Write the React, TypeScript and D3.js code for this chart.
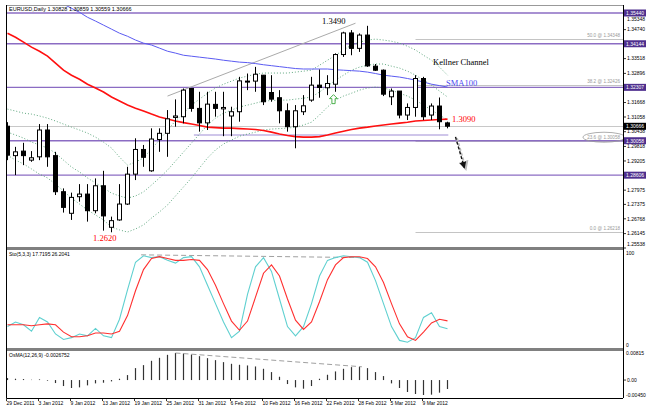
import React from "react";
import * as d3 from "d3";

// ---------- DATA ----------
const opens = [1.3067,1.2943,1.2962,1.2924,1.2938,1.3051,1.2943,1.2791,1.2700,1.2770,1.2781,1.2711,1.2816,1.2641,1.2672,1.2739,1.2865,1.2969,1.2879,1.3011,1.3037,1.3104,1.3107,1.3226,1.3142,1.3081,1.3159,1.3140,1.3110,1.3128,1.3253,1.3257,1.3282,1.3209,1.3187,1.3132,1.3065,1.3128,1.3177,1.3240,1.3229,1.3244,1.3369,1.3460,1.3395,1.3451,1.3320,1.3303,1.3191,1.3215,1.3114,1.3146,1.3268,1.3114,1.3152,1.3081];
const highs = [1.3084,1.2980,1.2997,1.2962,1.3076,1.3076,1.2959,1.2805,1.2787,1.2823,1.2823,1.2847,1.2879,1.2686,1.2823,1.2896,1.3016,1.2988,1.3058,1.3058,1.3135,1.3180,1.3226,1.3228,1.3212,1.3212,1.3212,1.3212,1.3149,1.3275,1.3289,1.3317,1.3282,1.3282,1.3219,1.3163,1.3156,1.3198,1.3275,1.3306,1.3282,1.3374,1.3465,1.3472,1.3458,1.3490,1.3329,1.3306,1.3226,1.3215,1.3163,1.3282,1.3275,1.3163,1.3188,1.3086];
const lows = [1.2924,1.2861,1.2903,1.2917,1.2924,1.2896,1.2777,1.2703,1.2672,1.2749,1.2665,1.2700,1.2627,1.2620,1.2669,1.2735,1.2840,1.2896,1.2875,1.2959,1.2938,1.3065,1.3079,1.3128,1.3044,1.3051,1.3107,1.3025,1.3025,1.3086,1.3219,1.3212,1.3156,1.3170,1.3079,1.3044,1.2974,1.3114,1.3170,1.3187,1.3198,1.3212,1.3359,1.3366,1.3380,1.3317,1.3300,1.3194,1.3156,1.3100,1.3093,1.3107,1.3093,1.3093,1.3054,1.3058];
const closes = [1.2945,1.2959,1.2943,1.2934,1.3051,1.2938,1.2791,1.2725,1.2767,1.2781,1.2711,1.2816,1.2689,1.2669,1.2739,1.2865,1.2969,1.2936,1.3013,1.3037,1.3098,1.3110,1.3219,1.3142,1.3081,1.3160,1.3142,1.3146,1.3128,1.3258,1.3257,1.3286,1.3170,1.3181,1.3132,1.3065,1.3132,1.3153,1.3240,1.3230,1.3247,1.3369,1.3460,1.3395,1.3451,1.3321,1.3303,1.3202,1.3215,1.3114,1.3146,1.3268,1.3107,1.3152,1.3086,1.3067];

const sma100 = [1.3707,1.3686,1.3670,1.3649,1.3632,1.3615,1.3598,1.3581,1.3564,1.3547,1.3526,1.3510,1.3493,1.3476,1.3459,1.3446,1.3430,1.3417,1.3409,1.3396,1.3383,1.3375,1.3366,1.3362,1.3358,1.3354,1.3350,1.3345,1.3341,1.3337,1.3335,1.3331,1.3326,1.3322,1.3318,1.3314,1.3310,1.3308,1.3308,1.3308,1.3308,1.3305,1.3303,1.3301,1.3299,1.3295,1.3289,1.3282,1.3278,1.3274,1.3268,1.3261,1.3253,1.3244,1.3238,1.3232];
const smaRed = [1.3459,1.3442,1.3421,1.3400,1.3383,1.3362,1.3333,1.3303,1.3282,1.3265,1.3244,1.3228,1.3211,1.3190,1.3173,1.3156,1.3143,1.3131,1.3118,1.3106,1.3097,1.3089,1.3082,1.3076,1.3070,1.3063,1.3061,1.3059,1.3059,1.3057,1.3055,1.3053,1.3049,1.3042,1.3034,1.3028,1.3023,1.3021,1.3021,1.3023,1.3030,1.3038,1.3046,1.3053,1.3059,1.3063,1.3068,1.3072,1.3076,1.3080,1.3084,1.3089,1.3091,1.3093,1.3095,1.3097];
const keltnerUpper = [1.3139,1.3131,1.3122,1.3118,1.3110,1.3101,1.3089,1.3076,1.3063,1.3051,1.3038,1.3021,1.3000,1.2975,1.2937,1.2903,1.2916,1.2933,1.2971,1.3009,1.3051,1.3089,1.3122,1.3156,1.3181,1.3206,1.3228,1.3244,1.3257,1.3270,1.3278,1.3286,1.3291,1.3291,1.3291,1.3291,1.3295,1.3299,1.3303,1.3324,1.3345,1.3366,1.3388,1.3409,1.3421,1.3430,1.3434,1.3430,1.3425,1.3417,1.3404,1.3388,1.3366,1.3345,1.3316,1.3282];
const keltnerMid = [1.3042,1.3030,1.3017,1.3000,1.2988,1.2975,1.2954,1.2924,1.2895,1.2874,1.2849,1.2828,1.2807,1.2785,1.2773,1.2764,1.2773,1.2790,1.2819,1.2849,1.2882,1.2920,1.2958,1.2996,1.3034,1.3072,1.3101,1.3122,1.3135,1.3148,1.3156,1.3164,1.3173,1.3175,1.3177,1.3177,1.3181,1.3185,1.3190,1.3211,1.3236,1.3261,1.3282,1.3303,1.3316,1.3324,1.3329,1.3329,1.3320,1.3312,1.3299,1.3282,1.3261,1.3240,1.3215,1.3190];
const keltnerLower = [1.2945,1.2924,1.2908,1.2887,1.2865,1.2849,1.2823,1.2794,1.2764,1.2739,1.2714,1.2693,1.2672,1.2642,1.2630,1.2621,1.2634,1.2651,1.2680,1.2706,1.2735,1.2773,1.2811,1.2849,1.2891,1.2933,1.2967,1.2992,1.3009,1.3025,1.3034,1.3042,1.3051,1.3055,1.3057,1.3059,1.3063,1.3072,1.3084,1.3114,1.3148,1.3177,1.3194,1.3206,1.3219,1.3228,1.3232,1.3228,1.3219,1.3206,1.3194,1.3177,1.3156,1.3135,1.3114,1.3093];

const stochK = [20,25,22,15,30,25,12,6,8,12,10,18,10,8,28,60,90,97,95,96,92,89,95,96,85,65,45,25,8,15,55,85,95,80,50,20,10,20,45,75,92,95,97,96,95,90,70,45,20,5,3,8,30,35,20,17.7];
const stochD = [22,22,22,21,22,23,22,14,9,9,10,13,13,12,15,32,59,82,94,96,94,92,92,93,92,82,65,45,26,16,26,52,78,87,75,50,27,17,25,47,71,87,95,96,96,94,85,68,45,23,9,5,14,24,28,26.2];
const osma = [0.0006,0.0004,0.0003,0.0001,0.0002,-0.0002,-0.0009,-0.0018,-0.0024,-0.0022,-0.0016,-0.0010,-0.0008,-0.0004,0.0004,0.0015,0.0036,0.0045,0.0058,0.0067,0.0076,0.00815,0.0080,0.0077,0.0072,0.0066,0.0060,0.0054,0.0049,0.0046,0.0044,0.0041,0.0034,0.0024,0.0010,-0.0012,-0.0022,-0.0026,-0.0018,0.0004,0.0016,0.0026,0.0034,0.0039,0.0040,0.0036,0.0024,0.0012,-0.0010,-0.0024,-0.0036,-0.0042,-0.0045,-0.0044,-0.0038,-0.0027];

const dateLabels = ["29 Dec 2011","3 Jan 2012","9 Jan 2012","13 Jan 2012","19 Jan 2012","25 Jan 2012","31 Jan 2012","6 Feb 2012","10 Feb 2012","16 Feb 2012","22 Feb 2012","28 Feb 2012","5 Mar 2012","9 Mar 2012"];
const dateBars = [0,4,8,12,16,20,24,28,32,36,40,44,48,52];

const priceTicks = ["1.35348","1.34740","1.33518","1.32896","1.31668","1.31058","1.30438","1.29818","1.29205","1.27975","1.27375","1.26768","1.26145","1.25538"];
const levelPrices = ["1.35440","1.34144","1.32307","1.30058","1.28606"];
const closePrice = "1.30666";
const fibLevels = ["0.0","23.6","38.2","50.0"];
const fibPrices = ["1.26218","1.30058","1.32426","1.34348"];

const stochTicks = ["100","0"];
const osmaTicks = ["0.00815","0.00","-0.00450"];

// ---------- LAYOUT ----------
const LEFT = 7, RIGHT = 623;
const MAIN_TOP = 5, MAIN_BOT = 247;
const STO_TOP = 250, STO_BOT = 348;
const OS_BOT = 398;

const x = d3.scaleLinear().domain([0, 55]).range([7.5, 447.5]);
const y = d3.scaleLinear().domain([1.25538, 1.3544]).range([248, 13]);
const ys = d3.scaleLinear().domain([0, 100]).range([345, 253]);
const yo = d3.scaleLinear().domain([-0.0045, 0.00815]).range([395, 353]);

const PURPLE = "#8b6cc3";
const BOX = "#4e2f8e";

export default function App() {
  const priceLine = d3.line<number>().x((_, i) => x(i)).y((d) => y(d));
  const stoLine = d3.line<number>().x((_, i) => x(i)).y((d) => ys(d));
  const axisFont = "Liberation Sans, Arial, sans-serif";
  const serif = "Liberation Serif, Times New Roman, serif";

  const arrowCx = x(40.75);
  const arrowTop = y(1.3200);
  const arrowPts = [
    [0, 0], [4, 4], [1.6, 4], [1.6, 9], [-1.6, 9], [-1.6, 4], [-4, 4],
  ].map(([a, b]) => `${arrowCx + a},${arrowTop + b}`).join(" ");

  const dashStart = [x(56), y(1.3022)];
  const dashEnd = [x(57.1), y(1.2893)];

  // keep axis labels from colliding with highlighted boxes / panel labels
  const tickY = (t: string) => {
    const v = y(+t);
    if (v < 20) return Math.max(v, 19.5);
    if (v > 244) return Math.min(v, 244);
    return v;
  };

  return (
    <svg width={668} height={415} style={{ position: "absolute", left: 0, top: 0, background: "#fff" }}>
      <defs>
        <clipPath id="mainClip"><rect x={LEFT} y={MAIN_TOP} width={RIGHT - LEFT} height={MAIN_BOT - MAIN_TOP} /></clipPath>
        <clipPath id="stoClip"><rect x={LEFT} y={STO_TOP} width={RIGHT - LEFT} height={STO_BOT - STO_TOP} /></clipPath>
        <marker id="ah" viewBox="0 0 10 10" refX="8" refY="5" markerWidth="5" markerHeight="5" orient="auto">
          <path d="M0,0 L10,5 L0,10 z" fill="#111" />
        </marker>
        <marker id="ahs" viewBox="0 0 10 10" refX="8" refY="5" markerWidth="5" markerHeight="5" orient="auto">
          <path d="M0,0 L10,5 L0,10 z" fill="#bbb" />
        </marker>
      </defs>
      <rect x={0} y={0} width={668} height={415} fill="#fff" />

      {/* ===== MAIN PANEL ===== */}
      <g clipPath="url(#mainClip)">
        {fibPrices.map((p, i) => (
          <line key={"fl" + i} x1={x(51)} x2={RIGHT} y1={Math.round(y(+p)) + 0.5} y2={Math.round(y(+p)) + 0.5} stroke="#c4c4c4" strokeWidth={1} />
        ))}
        <line x1={LEFT} x2={RIGHT} y1={Math.round(y(+closePrice)) + 0.5} y2={Math.round(y(+closePrice)) + 0.5} stroke="#c8c8c8" strokeWidth={1} />
        <line x1={x(23.3)} x2={x(55.1)} y1={y(1.3030)} y2={y(1.3030)} stroke="#cfc6ea" strokeWidth={2} />
        {levelPrices.map((p, i) => (
          <line key={"lv" + i} x1={LEFT} x2={RIGHT} y1={y(+p)} y2={y(+p)} stroke={PURPLE} strokeWidth={1.3} />
        ))}
        <line x1={x(20)} y1={y(1.3194)} x2={x(43.5)} y2={y(1.3501)} stroke="#aaaaaa" strokeWidth={1} />

        {[keltnerUpper, keltnerMid, keltnerLower].map((arr, k) => (
          <path key={"kc" + k} d={priceLine(arr) || ""} fill="none" stroke="#4f9e72" strokeWidth={0.9} strokeDasharray="1,2" />
        ))}
        <path d={priceLine(sma100) || ""} fill="none" stroke="#5b5bf2" strokeWidth={1} />
        <path d={priceLine(smaRed) || ""} fill="none" stroke="#ff1010" strokeWidth={1.6} />

        {opens.map((o, i) => {
          const c = closes[i];
          const cx = x(i);
          const top = y(Math.max(o, c));
          const bot = y(Math.min(o, c));
          const h = Math.max(1, bot - top);
          const bear = c < o;
          return (
            <g key={"c" + i}>
              <line x1={cx} x2={cx} y1={y(highs[i])} y2={y(lows[i])} stroke="#000" strokeWidth={1} />
              <rect x={cx - 2} y={top} width={4} height={h} fill={bear ? "#000" : "#fff"} stroke="#000" strokeWidth={1} />
            </g>
          );
        })}

        <polygon points={arrowPts} fill="#fff" stroke="#3aa83a" strokeWidth={0.9} />

        <line x1={dashStart[0] + 1.5} y1={dashStart[1] + 1.5} x2={dashEnd[0] + 1.5} y2={dashEnd[1] + 1.5} stroke="#bbb" strokeWidth={2} strokeDasharray="3,2" markerEnd="url(#ahs)" />
        <line x1={dashStart[0]} y1={dashStart[1]} x2={dashEnd[0]} y2={dashEnd[1]} stroke="#111" strokeWidth={1.4} strokeDasharray="3,2" markerEnd="url(#ah)" />

        <text x={322} y={24} fontFamily={serif} fontSize={8.5} fill="#000">1.3490</text>
        <text x={93} y={241} fontFamily={serif} fontSize={8.5} fill="#ff0000">1.2620</text>
        <text x={452} y={122} fontFamily={serif} fontSize={8.5} fill="#ff0000">1.3090</text>
        <text x={446} y={86} fontFamily={serif} fontSize={8.5} fill="#4a4af0">SMA100</text>
        <text x={433} y={65} fontFamily={serif} fontSize={8.5} fill="#000">Kellner Channel</text>

        {fibPrices.map((p, i) => (
          <text key={"ft" + i} x={620} y={y(+p) - 2} textAnchor="end" fontFamily={axisFont} fontSize={4.6} fill="#999">
            {`${fibLevels[i]} @ ${p}`}
          </text>
        ))}
        <ellipse cx={604} cy={y(1.30058) - 3.5} rx={21} ry={5} fill="none" stroke="#999" strokeWidth={0.8} />
      </g>

      <text x={9} y={11} fontFamily={axisFont} fontSize={5.5} fill="#000">EURUSD,Daily  1.30828 1.30859 1.30559 1.30666</text>

      {/* ===== STOCHASTIC ===== */}
      <g clipPath="url(#stoClip)">
        <line x1={x(16.7)} y1={ys(98)} x2={x(44.2)} y2={ys(95)} stroke="#a0a0a0" strokeWidth={1} strokeDasharray="5,3" />
        <path d={stoLine(stochK) || ""} fill="none" stroke="#5fd0d0" strokeWidth={1.1} />
        <path d={stoLine(stochD) || ""} fill="none" stroke="#ff3030" strokeWidth={1.1} />
      </g>
      <text x={9} y={256} fontFamily={axisFont} fontSize={5} fill="#000">Sto(5,3,3) 17.7195 26.2041</text>

      {/* ===== OsMA ===== */}
      {osma.map((v, i) => (
        <line key={"o" + i} x1={x(i)} x2={x(i)} y1={yo(0)} y2={yo(v)} stroke="#333" strokeWidth={1.2} />
      ))}
      <line x1={x(21)} y1={yo(0.00815)} x2={x(44.3)} y2={yo(0.0040)} stroke="#a0a0a0" strokeWidth={1} strokeDasharray="5,3" />
      <text x={9} y={357} fontFamily={axisFont} fontSize={5} fill="#000">OsMA(12,26,9) -0.0026752</text>

      {/* ===== FRAME ===== */}
      <line x1={LEFT} x2={RIGHT} y1={5.5} y2={5.5} stroke="#999" strokeWidth={1} />
      <rect x={LEFT} y={247} width={RIGHT - LEFT} height={3} fill="#808080" />
      <rect x={LEFT} y={348} width={RIGHT - LEFT} height={3} fill="#808080" />
      <line x1={LEFT - 0.5} x2={LEFT - 0.5} y1={5} y2={OS_BOT} stroke="#000" strokeWidth={1} />
      <line x1={RIGHT + 0.5} x2={RIGHT + 0.5} y1={5} y2={OS_BOT} stroke="#000" strokeWidth={1} />
      <line x1={LEFT} x2={RIGHT} y1={OS_BOT + 0.5} y2={OS_BOT + 0.5} stroke="#000" strokeWidth={1} />

      {priceTicks.map((t, i) => (
        <g key={"pt" + i}>
          <line x1={RIGHT} x2={RIGHT + 3} y1={y(+t)} y2={y(+t)} stroke="#000" strokeWidth={0.8} />
          <text x={627} y={tickY(t) + 1.7} fontFamily={axisFont} fontSize={5} fill="#000">{t}</text>
        </g>
      ))}
      {levelPrices.map((p, i) => (
        <g key={"lb" + i}>
          <rect x={624} y={y(+p) - 3.5} width={22} height={7} fill={BOX} />
          <text x={626} y={y(+p) + 1.8} fontFamily={axisFont} fontSize={5} fill="#fff">{p}</text>
        </g>
      ))}
      <rect x={624} y={y(+closePrice) - 3.5} width={22} height={7} fill="#000" />
      <text x={626} y={y(+closePrice) + 1.8} fontFamily={axisFont} fontSize={5} fill="#fff">{closePrice}</text>

      <text x={626} y={ys(100) + 1.5} fontFamily={axisFont} fontSize={5} fill="#000">{stochTicks[0]}</text>
      <text x={626} y={ys(0) + 2} fontFamily={axisFont} fontSize={5} fill="#000">{stochTicks[1]}</text>

      <text x={626} y={yo(0.00815) + 1.7} fontFamily={axisFont} fontSize={5} fill="#000">{osmaTicks[0]}</text>
      <line x1={RIGHT} x2={RIGHT + 3} y1={yo(0)} y2={yo(0)} stroke="#000" strokeWidth={0.8} />
      <text x={627} y={yo(0) + 1.7} fontFamily={axisFont} fontSize={5} fill="#000">{osmaTicks[1]}</text>
      <text x={626} y={yo(-0.0045) + 1.7} fontFamily={axisFont} fontSize={5} fill="#000">{osmaTicks[2]}</text>

      {dateBars.map((b, i) => (
        <g key={"d" + i}>
          <line x1={x(b) - 1} x2={x(b) - 1} y1={OS_BOT} y2={OS_BOT + 3} stroke="#000" strokeWidth={0.8} />
          <text x={x(b) - 1} y={404.5} fontFamily={axisFont} fontSize={5} fill="#000">{dateLabels[i]}</text>
        </g>
      ))}
    </svg>
  );
}
